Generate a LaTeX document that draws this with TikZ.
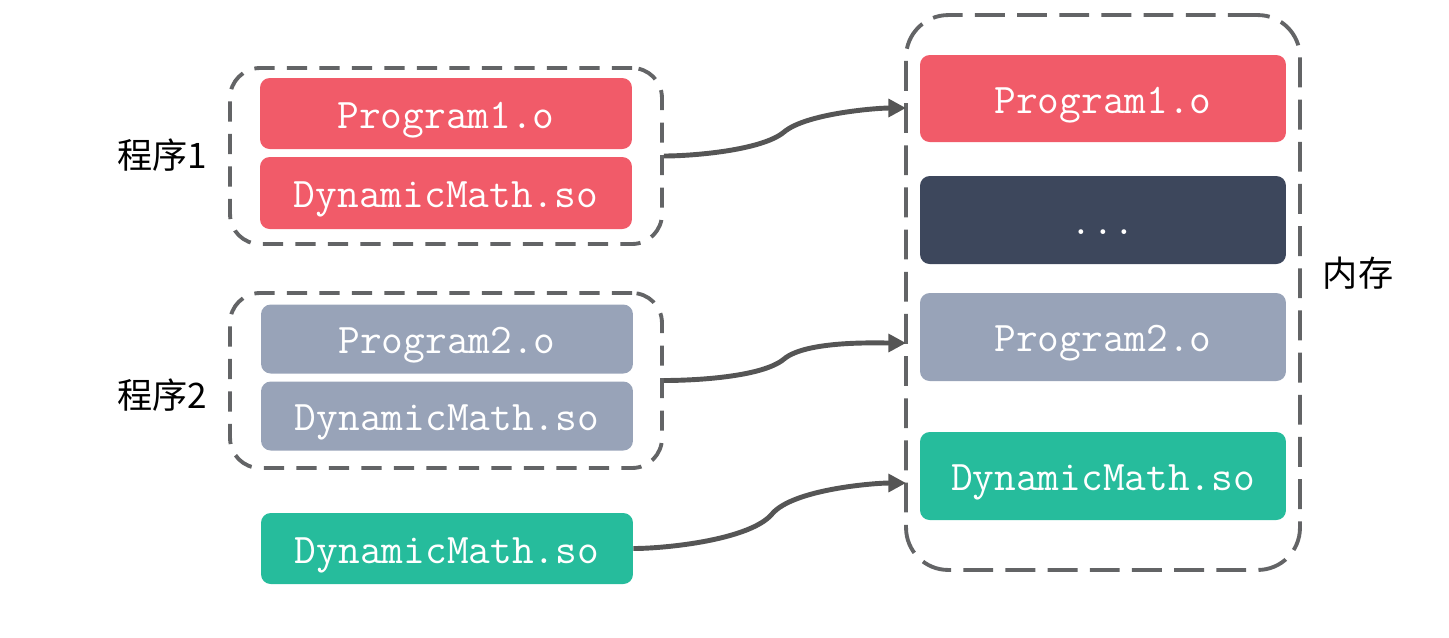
\documentclass[tikz,border=0pt]{standalone}
\usepackage{fontspec}
\newfontfamily\cjk{Noto Sans CJK SC}
\usetikzlibrary{arrows.meta}
\definecolor{progred}{HTML}{F15B69}
\definecolor{proggray}{HTML}{98A3B8}
\definecolor{proggreen}{HTML}{26BC9C}
\definecolor{progdark}{HTML}{3D475C}
\definecolor{dashgray}{HTML}{636466}
\definecolor{conngray}{HTML}{555555}
\tikzset{
	block/.style={rounded corners=5.5pt, inner sep=0pt, text=white,
		text height=22pt, text depth=5.3pt,
		font=\ttfamily\fontsize{24}{28}\selectfont},
	small/.style={block, minimum width=7.44cm, minimum height=1.38cm},
	big/.style={block, minimum width=7.32cm, minimum height=1.76cm},
	group/.style={draw=dashgray, line width=2.2pt, rounded corners=17pt,
		dash pattern=on 11.5pt off 7pt},
	label/.style={font=\cjk\fontsize{20}{24}\selectfont},
	conn/.style={draw=conngray, line width=2.8pt,
		-{Triangle[length=10pt,width=10pt]}}
}

\begin{document}
\begin{tikzpicture}[x=0.02cm,y=-0.02cm]
		\useasboundingbox (0,0) rectangle (1449,637);
		% left side
		\node[group, minimum width=8.64cm, minimum height=3.52cm] (g1) at (446,156) {};
		\node[small, fill=progred, minimum height=1.42cm] (p1) at (446,113.5) {Program1.o};
		\node[small, fill=progred, minimum height=1.44cm] (d1) at (446,193) {DynamicMath.so};
		\node[label] (l1) at (162,155) {程序1};
		\node[group, minimum width=8.64cm, minimum height=3.5cm] (g2) at (446,380.5) {};
		\node[small, fill=proggray] (p2) at (447,339) {Program2.o};
		\node[small, fill=proggray] (d2) at (447,416) {DynamicMath.so};
		\node[label] (l2) at (162,395) {程序2};
		\node[small, fill=proggreen, minimum height=1.42cm] (d3) at (447,548.5) {DynamicMath.so};
		% memory
		\node[group, rounded corners=24pt, dash pattern=on 17pt off 7pt,
			minimum width=7.88cm, minimum height=11.1cm] (mem) at (1103,292.5) {};
		\node[big, fill=progred, minimum height=1.74cm] (m1) at (1103,98.5) {Program1.o};
		\node[big, fill=progdark] (m2) at (1103,220) {...};
		\node[big, fill=proggray] (m3) at (1103,337) {Program2.o};
		\node[big, fill=proggreen] (m4) at (1103,476) {DynamicMath.so};
		\node[label] (l3) at (1358,273) {内存};
		% connectors
		\coordinate (k1) at (784,132);
		\coordinate (e1) at (906,108);
		\coordinate (k2) at (784,359);
		\coordinate (e2) at (906,343);
		\coordinate (k3) at (772,514);
		\coordinate (e3) at (906,483);
		\draw[conn] (g1.east) to[out=0,in=220,looseness=0.6] (k1) to[out=40,in=180,looseness=0.6] (e1);
		\draw[conn] (g2.east) to[out=0,in=220,looseness=0.6] (k2) to[out=40,in=180,looseness=0.6] (e2);
		\draw[conn] (d3.east) to[out=0,in=230,looseness=0.6] (k3) to[out=50,in=180,looseness=0.6] (e3);
\end{tikzpicture}
\end{document}
